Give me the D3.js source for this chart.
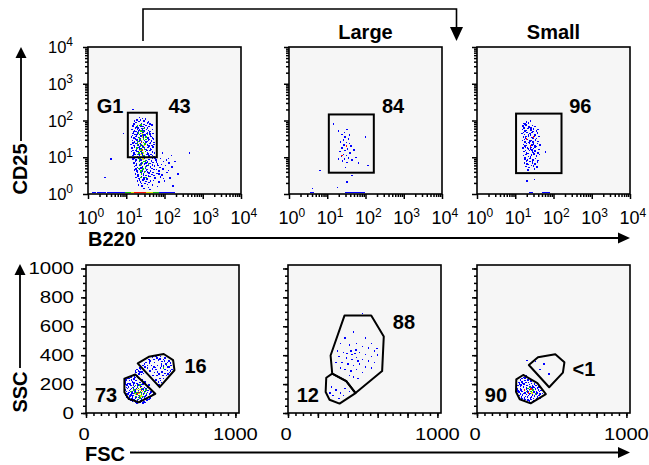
<!DOCTYPE html>
<html lang="en">
<head>
<meta charset="UTF-8">
<title>CD25 / B220 gating</title>
<style>
  body { margin: 0; background: #fff; }
  svg { display: block; font-family: Arial, "Liberation Sans", sans-serif; }
</style>
</head>
<body>
<script src="https://cdn.jsdelivr.net/npm/d3@7"></script>
<script>
const W = 649, H = 465;

// ---- tick values / labels ----
const logTicks = [1, 10, 100, 1000, 10000];
const logExps = ["0", "1", "2", "3", "4"];
const linTicks = [0, 200, 400, 600, 800, 1000];
const linLabelsX = [0, 1000];
const columnTitles = ["", "Large", "Small"];

// ---- gates ----
// top row: rectangles [xMin, xMax, yMin, yMax] in channel values (CD25 vs B220)
const topGates = [[11, 63, 10, 163], [11, 165, 3.8, 146], [10.5, 162, 3.7, 154]];
// gate percentages and label anchors (channel values)
const topLabels = [
  [["G1", 3.76, 247], ["43", 247, 247]],
  [["84", 525, 247]],
  [["96", 501, 247]]
];
// bottom row: polygons in FSC / SSC values
const smallGateL = [[257, 238], [330, 266], [464, 133], [352, 74], [285, 98], [257, 144]];
const largeGateL = [[346, 343], [420, 389], [520, 408], [583, 366], [592, 296], [493, 179]];
const smallGateM = [[296, 272], [390, 221], [452, 138], [345, 65], [278, 92], [252, 145], [256, 244]];
const largeGateM = [[378, 674], [557, 674], [641, 529], [630, 290], [452, 138], [390, 221], [296, 272], [285, 398]];
const smallGateR = [[263, 233], [309, 263], [404, 206], [461, 131], [359, 67], [286, 95], [261, 147]];
const largeGateR = [[347, 332], [408, 385], [524, 406], [585, 351], [575, 279], [483, 178]];
const bottomLabels = [
  [["73", 134, 125], ["16", 733, 325]],
  [["12", 133, 125], ["88", 776, 632]],
  [["90", 127, 125], ["<1", 716, 304]]
];

// ---- events, top row: decade positions [log10 B220, log10 CD25] ----
const aBlue = [
  [1.35,2.08],[1.42,2.05],[1.28,2.02],[1.50,2.04],[1.25,1.95],[1.33,1.97],[1.40,1.92],[1.47,1.98],[1.55,1.93],[1.20,1.90],[1.62,1.91],
  [1.18,1.85],[1.27,1.82],[1.36,1.87],[1.44,1.84],[1.52,1.86],[1.60,1.83],[1.31,1.80],[1.48,1.81],[1.67,1.88],
  [1.15,1.75],[1.22,1.72],[1.29,1.77],[1.35,1.74],[1.41,1.78],[1.46,1.71],[1.53,1.76],[1.58,1.73],[1.64,1.70],[1.25,1.70],
  [1.17,1.65],[1.23,1.62],[1.30,1.68],[1.38,1.64],[1.44,1.67],[1.50,1.61],[1.56,1.66],[1.62,1.63],[1.70,1.65],[1.27,1.60],[1.47,1.60],
  [1.14,1.55],[1.20,1.52],[1.26,1.57],[1.33,1.54],[1.39,1.58],[1.45,1.51],[1.51,1.56],[1.57,1.53],[1.63,1.58],[1.69,1.52],[1.36,1.50],
  [1.16,1.45],[1.22,1.42],[1.28,1.47],[1.34,1.44],[1.40,1.41],[1.48,1.46],[1.54,1.43],[1.60,1.48],[1.66,1.44],[1.72,1.40],
  [1.13,1.35],[1.19,1.32],[1.25,1.38],[1.31,1.33],[1.37,1.36],[1.43,1.31],[1.49,1.38],[1.55,1.34],[1.61,1.37],[1.67,1.32],
  [1.15,1.25],[1.21,1.28],[1.27,1.22],[1.33,1.27],[1.39,1.24],[1.45,1.29],[1.51,1.21],[1.57,1.26],[1.63,1.23],[1.70,1.28],
  [1.14,1.15],[1.20,1.12],[1.26,1.18],[1.32,1.14],[1.38,1.17],[1.44,1.11],[1.50,1.16],[1.56,1.13],[1.62,1.18],[1.68,1.14],[1.74,1.12],
  [1.17,1.05],[1.23,1.08],[1.29,1.02],[1.35,1.06],[1.41,1.09],[1.47,1.03],[1.53,1.07],[1.59,1.04],[1.65,1.08],[1.72,1.02],
  [1.18,0.95],[1.25,0.92],[1.32,0.97],[1.39,0.93],[1.46,0.96],[1.53,0.91],[1.60,0.94],[1.68,0.98],[1.78,0.93],[1.90,0.96],[2.05,0.92],[2.18,1.05],[1.95,1.12],
  [1.20,0.85],[1.27,0.82],[1.34,0.88],[1.41,0.84],[1.48,0.81],[1.55,0.87],[1.62,0.83],[1.70,0.86],[1.82,0.82],[1.98,0.88],[2.12,0.84],
  [1.22,0.75],[1.29,0.72],[1.36,0.78],[1.43,0.74],[1.50,0.71],[1.57,0.77],[1.64,0.73],[1.74,0.76],[1.88,0.72],[2.02,0.78],[2.20,0.74],
  [1.21,0.65],[1.28,0.62],[1.35,0.68],[1.42,0.64],[1.49,0.61],[1.56,0.67],[1.63,0.63],[1.72,0.66],[1.85,0.62],[1.96,0.68],[2.10,0.64],
  [1.24,0.55],[1.31,0.52],[1.38,0.58],[1.45,0.54],[1.52,0.51],[1.59,0.57],[1.67,0.53],[1.80,0.56],[1.93,0.52],[2.06,0.58],
  [1.26,0.45],[1.33,0.42],[1.40,0.48],[1.47,0.44],[1.54,0.41],[1.62,0.47],[1.75,0.43],[1.90,0.46],[2.15,0.44],
  [1.29,0.35],[1.37,0.32],[1.44,0.38],[1.52,0.34],[1.60,0.31],[1.71,0.37],[1.86,0.33],[2.00,0.36],
  [1.32,0.25],[1.41,0.22],[1.49,0.28],[1.58,0.18],[1.68,0.24],[1.82,0.20],[2.22,0.22],
  [1.18,2.30],[0.93,1.65],[0.45,0.45],[2.65,1.12],[0.60,0.95],[2.35,0.55],
  [1.21,1.98],[1.37,2.01],[1.46,1.89],[1.58,1.96],[1.24,1.79],[1.39,1.83],[1.56,1.79],[1.19,1.69],[1.32,1.71],[1.43,1.74],[1.61,1.69],[1.68,1.75],
  [1.16,1.59],[1.29,1.63],[1.41,1.56],[1.53,1.64],[1.66,1.57],[1.24,1.49],[1.37,1.46],[1.45,1.55],[1.58,1.45],[1.71,1.49],
  [1.18,1.39],[1.30,1.41],[1.40,1.34],[1.52,1.41],[1.64,1.39],[1.22,1.31],[1.34,1.29],[1.47,1.27],[1.59,1.31],[1.73,1.35],
  [1.17,1.19],[1.28,1.16],[1.36,1.23],[1.42,1.19],[1.54,1.18],[1.66,1.21],[1.19,1.09],[1.31,1.07],[1.44,1.05],[1.57,1.09],[1.69,1.05],
  [1.22,0.98],[1.35,1.00],[1.49,0.99],[1.63,1.00],[1.75,0.97],[1.24,0.88],[1.37,0.91],[1.51,0.85],[1.66,0.90],[1.79,0.87],
  [1.26,0.78],[1.39,0.81],[1.53,0.76],[1.68,0.79],[1.83,0.77],[1.25,0.68],[1.39,0.71],[1.53,0.65],[1.67,0.69],[1.79,0.66],
  [1.29,0.58],[1.42,0.61],[1.56,0.60],[1.70,0.58],[1.85,0.55],[1.31,0.47],[1.45,0.50],[1.58,0.49],[1.72,0.50],
  [1.35,0.38],[1.48,0.40],[1.63,0.36],[1.40,0.28],[1.55,0.26],[1.46,0.15],[1.62,0.12],[1.97,0.42],[2.10,0.96],[1.92,0.80],[2.27,0.88]
];
const aGreen = [
  [1.30,1.85],[1.38,1.72],[1.42,1.60],[1.34,1.52],[1.45,1.40],[1.37,1.30],[1.48,1.22],[1.33,1.12],[1.42,1.00],[1.50,0.90],
  [1.36,0.80],[1.44,0.68],[1.40,0.55],[1.52,0.45],[1.31,1.43],[1.55,1.62],[1.28,1.25],[1.47,1.05],[1.39,1.88],[1.58,0.82],
  [1.35,1.62],[1.45,1.50],[1.40,1.35],[1.50,1.15],[1.36,0.98],[1.42,0.85],[1.48,0.60],[1.33,0.70],[1.46,1.78],[1.52,1.48],
  [1.30,1.08],[1.55,1.00],[1.38,0.45],[1.32,1.66],[1.44,1.70],[1.36,1.48],[1.49,1.36],[1.39,1.20],[1.43,1.27],[1.34,0.92],
  [1.46,0.88],[1.38,0.62],[1.50,0.74],[1.41,1.13],[1.52,1.55],[1.29,1.36]
];
const aYellow = [[1.40,1.45],[1.36,1.18],[1.44,0.95],[1.41,1.65],[1.38,1.08],[1.47,1.32],[1.43,1.55],[1.34,1.38],[1.45,1.12],[1.40,0.78]];
const aRed = [[1.42,1.20],[1.40,1.40]];
// events piled on the CD25 floor: [log10 B220, density level 0-3]
const aFloor = [
  [0.15,0],[0.28,0],[0.40,0],[0.55,0],[0.68,0],[0.80,0],[0.92,0],[1.02,1],[1.10,1],[1.18,2],[1.26,3],[1.34,3],
  [1.42,3],[1.50,3],[1.58,2],[1.66,2],[1.74,1],[1.82,1],[1.90,0],[2.00,0],[2.10,0],[2.22,0]
];

const bBlue = [
  [1.16,1.91],[1.30,1.72],[1.45,1.68],[1.52,1.75],[1.38,1.62],[1.47,1.55],[1.55,1.50],[1.42,1.47],[1.35,1.42],[1.50,1.40],
  [1.58,1.38],[1.44,1.33],[1.62,1.30],[1.39,1.25],[1.53,1.22],[1.47,1.18],[1.33,1.15],[1.60,1.12],[1.42,1.08],[1.50,1.05],
  [1.37,1.02],[1.55,0.98],[1.45,0.95],[1.65,0.92],[1.40,0.90],[1.52,0.86],[1.75,1.00],[1.70,1.20],[2.00,1.55],[2.06,0.77],
  [1.82,0.85],[1.65,0.50],[1.52,0.32],[1.27,0.18],[0.81,0.64],[0.61,0.15],[1.48,0.72],[1.30,0.95],[1.58,1.60]
];
const bRed = [[1.38,1.05],[1.50,1.30]];
const bFloor = [[0.60,0],[1.52,0],[1.60,0],[1.68,0],[1.75,0],[1.85,0],[1.92,0]];

const cBlue = [
  [1.30,1.96],[1.40,1.98],[1.22,1.92],[1.20,1.85],[1.28,1.88],[1.36,1.82],[1.45,1.86],[1.52,1.83],
  [1.19,1.75],[1.25,1.72],[1.33,1.78],[1.41,1.74],[1.48,1.77],[1.56,1.71],[1.60,1.76],
  [1.18,1.65],[1.24,1.62],[1.31,1.68],[1.38,1.64],[1.44,1.67],[1.51,1.61],[1.58,1.66],[1.35,1.60],
  [1.21,1.55],[1.27,1.52],[1.34,1.58],[1.42,1.54],[1.49,1.57],[1.55,1.51],[1.62,1.56],
  [1.19,1.45],[1.26,1.42],[1.32,1.48],[1.39,1.44],[1.46,1.41],[1.53,1.47],[1.60,1.43],[1.36,1.40],
  [1.22,1.35],[1.29,1.32],[1.37,1.38],[1.44,1.34],[1.51,1.31],[1.58,1.37],[1.65,1.33],
  [1.20,1.25],[1.27,1.28],[1.34,1.22],[1.41,1.27],[1.48,1.24],[1.55,1.29],[1.62,1.21],
  [1.23,1.15],[1.30,1.12],[1.37,1.18],[1.45,1.14],[1.52,1.17],[1.59,1.11],[1.79,1.14],
  [1.21,1.05],[1.28,1.08],[1.35,1.02],[1.42,1.06],[1.49,1.09],[1.56,1.03],[1.63,1.07],
  [1.25,0.95],[1.32,0.92],[1.39,0.97],[1.46,0.93],[1.53,0.96],[1.60,0.91],
  [1.24,0.85],[1.31,0.82],[1.38,0.88],[1.45,0.84],[1.52,0.81],[1.58,0.87],
  [1.28,0.75],[1.36,0.72],[1.43,0.78],[1.50,0.68],[1.33,0.65],[1.57,0.74],[1.31,0.36],[1.50,0.39],
  [1.26,1.90],[1.35,1.93],[1.23,1.80],[1.41,1.79],[1.30,1.73],[1.46,1.70],[1.22,1.68],[1.40,1.61],[1.28,1.57],[1.46,1.52],
  [1.24,1.48],[1.43,1.46],[1.30,1.38],[1.48,1.36],[1.25,1.30],[1.40,1.22],[1.32,1.25],[1.52,1.27],[1.27,1.18],[1.44,1.20],
  [1.33,1.10],[1.48,1.12],[1.25,1.00],[1.40,1.01],[1.30,0.90],[1.45,0.88],[1.35,0.80],[1.48,0.76]
];
const cRed = [[1.48,1.55],[1.29,1.50],[1.40,1.30]];
const cFloor = [[1.40,0],[1.75,0],[1.85,0]];

// ---- events, bottom row: [FSC, SSC] ----
const dBlue = [
  [280,240],[300,250],[320,235],[265,215],[290,225],[310,215],[335,225],[355,240],[275,195],[295,200],[318,195],[340,205],
  [362,210],[380,200],[270,175],[285,180],[305,170],[325,185],[345,178],[368,185],[390,175],[410,180],[272,150],[292,155],
  [312,148],[332,160],[352,152],[372,158],[395,150],[415,155],[435,145],[280,130],[300,125],[320,135],[342,128],[362,122],
  [385,130],[405,125],[425,130],[445,125],[290,105],[310,110],[330,100],[350,108],[370,102],[392,110],[412,98],[430,105],
  [300,85],[322,90],[345,82],[365,88],[388,80],[408,90],[340,70],[360,75],[380,68],[265,120],[455,140],[440,160],[420,195],
  [395,215],[375,230],[345,250],[325,255],
  [268,230],[288,238],[305,228],[328,245],[262,200],[282,205],[302,192],[322,208],[348,195],[372,198],[395,205],[266,160],
  [278,168],[298,162],[318,172],[338,168],[358,162],[382,165],[402,170],[425,168],[268,135],[288,142],[308,138],[328,145],
  [348,138],[368,142],[392,138],[412,142],[432,138],[452,130],[275,112],[295,118],[315,120],[335,108],[358,112],[378,108],
  [398,118],[418,115],[438,115],[285,92],[308,98],[328,88],[352,92],[372,92],[395,98],[420,92],[310,78],[335,75],[372,78],[395,72],
  [320,265],[335,280],[350,290],[365,300],[340,300],[355,270],[375,285],[385,275],[330,290],[360,310],[345,260],[360,285],[370,265],
  [380,330],[400,350],[420,370],[445,385],[470,395],[500,390],[530,380],[555,360],[570,330],[575,300],[560,280],[540,260],
  [520,240],[505,210],[490,195],[470,230],[450,260],[430,290],[410,310],[395,320],[440,330],[460,350],[485,365],[510,355],
  [535,340],[550,320],[530,300],[510,285],[490,270],[470,300],[455,320],[480,330],[500,310],[520,325],[545,295],[495,240],
  [475,260],[460,280],[425,345],[445,305],[525,360],[565,345],[505,340],
  [390,340],[410,330],[430,360],[455,370],[475,380],[495,375],[520,370],[545,350],[560,320],[565,290],[550,270],[530,275],
  [515,260],[500,225],[485,215],[480,285],[465,315],[505,325]
];
const dGreen = [
  [330,190],[350,170],[365,145],[340,140],[375,170],[320,160],[390,140],[355,120],[335,115],[380,115],[310,175],[360,195],
  [400,160],[345,95],[372,132],[540,330],[520,310],[325,140],[385,155],[300,150],[345,185],[405,135],[362,105]
];
const dYellow = [[350,150],[362,162],[340,162],[378,148],[355,135],[368,118],[330,130]];
const dRed = [[358,142],[345,130],[372,155],[365,175]];

const eBlue = [
  [500,690],[380,520],[440,560],[520,520],[560,480],[350,480],[410,470],[460,480],[500,460],[540,450],[580,430],[330,430],
  [370,420],[420,430],[450,410],[480,420],[520,405],[560,390],[600,400],[340,390],[390,380],[430,370],[460,385],[500,370],
  [540,360],[580,350],[360,350],[400,340],[440,330],[480,340],[520,320],[560,310],[380,300],[420,290],[460,300],[500,280],
  [440,250],[470,240],[410,260],[350,310],[320,350],[595,445],[455,435],[430,405],[470,360],[395,410],
  [290,180],[320,160],[350,140],[380,170],[300,120],[340,100],[370,120],[410,150],[280,140]
];

const fBlue = [
  [290,230],[310,245],[330,255],[350,240],[370,225],[280,210],[300,215],[320,225],[345,210],[365,205],[385,200],[275,190],
  [295,195],[315,200],[335,190],[355,185],[375,180],[395,190],[415,180],[270,165],[290,170],[310,175],[330,165],[350,160],
  [370,170],[390,165],[410,160],[430,155],[280,145],[300,150],[320,140],[340,145],[360,135],[380,145],[400,140],[420,130],
  [440,135],[285,120],[305,125],[325,115],[345,120],[365,110],[385,118],[405,112],[425,105],[300,100],[320,95],[340,90],
  [360,95],[380,85],[400,92],[330,78],[360,72],
  [300,238],[320,242],[340,228],[360,220],[285,200],[308,205],[328,212],[352,198],[372,192],[292,182],[312,185],[332,178],
  [362,178],[385,178],[405,172],[276,152],[296,160],[318,158],[338,155],[378,155],[398,150],[418,148],[290,130],[310,135],
  [330,128],[350,130],[372,125],[395,128],[415,120],[298,112],[318,105],[338,110],[358,105],[378,100],[398,102],[312,85],
  [350,82],[372,78],
  [393,355],[483,270],[449,339],[336,363],[420,300]
];
const fGreen = [[340,170],[360,150],[355,175],[375,160],[330,150],[390,130]];
const fYellow = [[350,155],[368,140]];
const fRed = [[318,159],[362,165],[345,140]];

const levelColors = ["#0000ff", "#10c010", "#e6e600", "#ff1000"];

// ---- layout ----
const topLefts = [88, 289, 477], topY = 47, topW = 153, topH = 147;
const botLefts = [86, 288, 477], botY = 265, botW = 153, botH = 148;
const bg = "#f6f6f6";

const svg = d3.select("body").append("svg")
  .attr("width", W).attr("height", H)
  .attr("viewBox", `0 0 ${W} ${H}`);

const topPts = [
  [[aBlue, 0], [aGreen, 1], [aYellow, 2], [aRed, 3]],
  [[bBlue, 0], [bRed, 3]],
  [[cBlue, 0], [cRed, 3]]
];
const topFloor = [aFloor, bFloor, cFloor];
const botPts = [
  [[dBlue, 0], [dGreen, 1], [dYellow, 2], [dRed, 3]],
  [[eBlue, 0]],
  [[fBlue, 0], [fGreen, 1], [fYellow, 2], [fRed, 3]]
];
const botGates = [[smallGateL, largeGateL], [smallGateM, largeGateM], [smallGateR, largeGateR]];

function dots(g, pts, color, x, y, x0, y0, x1, y1) {
  g.append("g").attr("shape-rendering", "crispEdges")
    .selectAll("rect").data(pts).join("rect")
    .attr("x", d => Math.min(Math.max(x(d[0]) - 0.75, x0 + 1), x1 - 2))
    .attr("y", d => Math.min(Math.max(y(d[1]) - 0.75, y1 + 1), y0 - 2.6))
    .attr("width", 1.5).attr("height", 1.5)
    .attr("fill", color);
}

function supLabel(sel, exp) {
  sel.append("tspan").text("10");
  sel.append("tspan").attr("dy", "-0.55em").attr("font-size", "12px").text(exp);
}

// ---- top row ----
topLefts.forEach((left, i) => {
  const x = d3.scaleLog().domain([1, 10000]).range([left, left + topW]);
  const y = d3.scaleLog().domain([1, 10000]).range([topY + topH, topY]);
  const g = svg.append("g");

  g.append("rect").attr("x", left).attr("y", topY).attr("width", topW).attr("height", topH)
    .attr("fill", bg).attr("stroke", "#000").attr("stroke-width", 1.6);

  // floor events
  g.append("g").attr("shape-rendering", "crispEdges")
    .selectAll("rect").data(topFloor[i]).join("rect")
    .attr("x", d => x(10 ** d[0]) - 2).attr("y", topY + topH - 2.5)
    .attr("width", 4.5).attr("height", 1.6)
    .attr("fill", d => levelColors[d[1]]);

  topPts[i].forEach(([pts, lvl]) => {
    const vals = pts.map(p => [10 ** p[0], 10 ** p[1]]);
    dots(g, vals, levelColors[lvl], x, y, left, topY + topH, left + topW, topY);
  });

  const gt = topGates[i];
  g.append("rect").attr("x", x(gt[0])).attr("y", y(gt[3]))
    .attr("width", x(gt[1]) - x(gt[0])).attr("height", y(gt[2]) - y(gt[3]))
    .attr("fill", "none").attr("stroke", "#000").attr("stroke-width", 2);

  // ticks
  const minor = d3.range(0, 4).flatMap(k => d3.range(2, 10).map(m => m * 10 ** k));
  const bottom = g.append("g").attr("transform", `translate(0,${topY + topH})`);
  bottom.call(d3.axisBottom(x).tickValues(logTicks).tickSize(5).tickFormat(""));
  bottom.append("g").call(d3.axisBottom(x).tickValues(minor).tickSize(3).tickFormat(""));
  const leftAx = g.append("g").attr("transform", `translate(${left},0)`);
  leftAx.call(d3.axisLeft(y).tickValues(logTicks).tickSize(5).tickFormat(""));
  leftAx.append("g").call(d3.axisLeft(y).tickValues(minor).tickSize(3).tickFormat(""));
  g.selectAll(".domain").remove();
  g.selectAll(".tick line").attr("stroke", "#000").attr("stroke-width", 1.5);

  // x tick labels
  g.append("g").selectAll("text").data(logTicks).join("text")
    .attr("x", d => x(d) - 10.5).attr("y", topY + topH + 29.5)
    .attr("font-size", "18px")
    .each(function (d, j) { supLabel(d3.select(this), logExps[j]); });

  if (i === 0) {
    g.append("g").selectAll("text").data(logTicks).join("text")
      .attr("x", left - 15).attr("y", d => y(d) + 6)
      .attr("text-anchor", "end").attr("font-size", "16.5px")
      .each(function (d, j) { supLabel(d3.select(this), logExps[j]); });
  }

  g.selectAll(".glab").data(topLabels[i]).join("text").attr("class", "glab")
    .attr("x", d => x(d[1])).attr("y", d => y(d[2])).attr("dy", "0.36em")
    .attr("text-anchor", "middle").attr("font-size", "20px").attr("font-weight", "bold")
    .text(d => d[0]);

  if (columnTitles[i]) {
    svg.append("text").attr("x", left + topW / 2).attr("y", 39)
      .attr("text-anchor", "middle").attr("font-size", "20px").attr("font-weight", "bold")
      .text(columnTitles[i]);
  }
});

// ---- bottom row ----
botLefts.forEach((left, i) => {
  const x = d3.scaleLinear().domain([0, 1024]).range([left, left + botW]);
  const y = d3.scaleLinear().domain([0, 1024]).range([botY + botH, botY]);
  const g = svg.append("g");

  g.append("rect").attr("x", left).attr("y", botY).attr("width", botW).attr("height", botH)
    .attr("fill", bg).attr("stroke", "#000").attr("stroke-width", 1.6);

  botPts[i].forEach(([pts, lvl]) => dots(g, pts, levelColors[lvl], x, y, left, botY + botH, left + botW, botY));

  const line = d3.line().x(d => x(d[0])).y(d => y(d[1])).curve(d3.curveLinearClosed);
  g.append("g").selectAll("path").data(botGates[i]).join("path")
    .attr("d", line).attr("fill", "none").attr("stroke", "#000")
    .attr("stroke-width", 2).attr("stroke-linejoin", "round");

  const minor = d3.range(0, 1001, 50);
  const bottom = g.append("g").attr("transform", `translate(0,${botY + botH})`);
  bottom.call(d3.axisBottom(x).tickValues(linTicks).tickSize(5).tickFormat(""));
  bottom.append("g").call(d3.axisBottom(x).tickValues(minor).tickSize(3).tickFormat(""));
  const leftAx = g.append("g").attr("transform", `translate(${left},0)`);
  leftAx.call(d3.axisLeft(y).tickValues(linTicks).tickSize(5).tickFormat(""));
  leftAx.append("g").call(d3.axisLeft(y).tickValues(minor).tickSize(3).tickFormat(""));
  g.selectAll(".domain").remove();
  g.selectAll(".tick line").attr("stroke", "#000").attr("stroke-width", 1.5);

  g.append("g").selectAll("text").data(linLabelsX).join("text")
    .attr("x", d => x(d) - (d === 0 ? 2 : 0)).attr("y", botY + botH + 27)
    .attr("text-anchor", "middle").attr("font-size", "17px")
    .attr("textLength", d => String(d).length * 11.2).attr("lengthAdjust", "spacingAndGlyphs")
    .text(d => d);

  if (i === 0) {
    g.append("g").selectAll("text").data(linTicks).join("text")
      .attr("x", left - 12).attr("y", d => y(d) + 6)
      .attr("text-anchor", "end").attr("font-size", "17px")
      .attr("textLength", d => String(d).length * 11.4).attr("lengthAdjust", "spacingAndGlyphs")
      .text(d => d);
  }

  g.selectAll(".glab").data(bottomLabels[i]).join("text").attr("class", "glab")
    .attr("x", d => x(d[1])).attr("y", d => y(d[2])).attr("dy", "0.36em")
    .attr("text-anchor", "middle").attr("font-size", "20px").attr("font-weight", "bold")
    .text(d => d[0]);
});

// ---- axis titles and arrows ----
const ink = "#000";
function arrowHead(pts) {
  svg.append("path").attr("d", d3.line()(pts) + "Z").attr("fill", ink);
}
function bold(text, x, y, rotate) {
  const t = svg.append("text").attr("font-size", "20px").attr("font-weight", "bold").text(text);
  if (rotate) {
    t.attr("transform", `translate(${x},${y}) rotate(-90)`).attr("text-anchor", "middle").attr("dy", "0.36em");
  } else {
    t.attr("x", x).attr("y", y);
  }
}

bold("CD25", 20, 169, true);
svg.append("line").attr("x1", 21).attr("x2", 21).attr("y1", 141).attr("y2", 56).attr("stroke", ink).attr("stroke-width", 1.8);
arrowHead([[21, 47], [15.5, 58], [26.5, 58]]);

bold("SSC", 20, 392, true);
svg.append("line").attr("x1", 20).attr("x2", 20).attr("y1", 368).attr("y2", 272).attr("stroke", ink).attr("stroke-width", 1.8);
arrowHead([[20, 264], [14.5, 275], [25.5, 275]]);

bold("B220", 88, 246, false);
svg.append("line").attr("x1", 141).attr("x2", 620).attr("y1", 238).attr("y2", 238).attr("stroke", ink).attr("stroke-width", 1.8);
arrowHead([[630, 238], [618, 232.5], [618, 243.5]]);

bold("FSC", 85, 461, false);
svg.append("line").attr("x1", 130).attr("x2", 620).attr("y1", 452.5).attr("y2", 452.5).attr("stroke", ink).attr("stroke-width", 1.8);
arrowHead([[630, 452.5], [618, 447], [618, 458]]);

svg.append("path").attr("d", "M143,41V9H456.5V28").attr("fill", "none").attr("stroke", ink).attr("stroke-width", 1.6);
arrowHead([[450, 27], [463, 27], [456.5, 41]]);
</script>
</body>
</html>
